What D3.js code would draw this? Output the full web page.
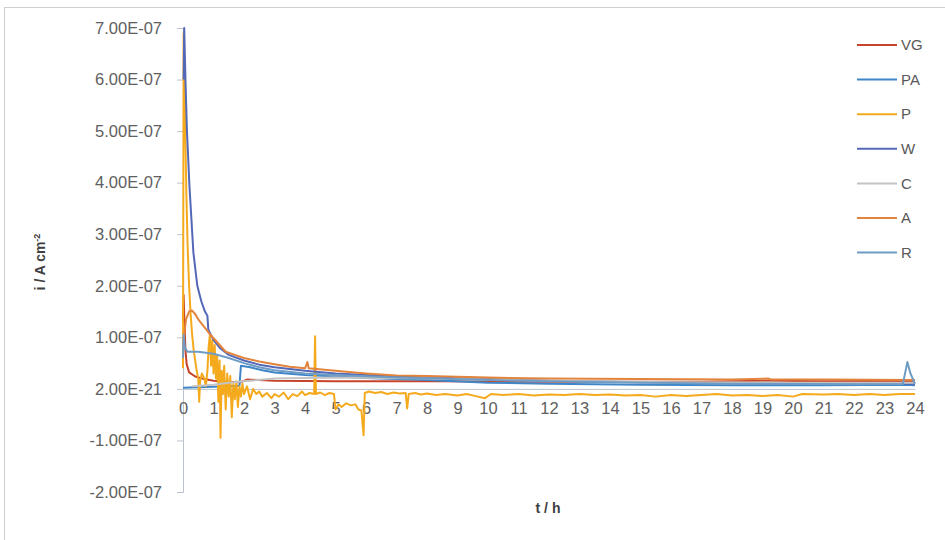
<!DOCTYPE html>
<html>
<head>
<meta charset="utf-8">
<script src="https://cdn.jsdelivr.net/npm/d3@7"></script>
<style>
  body { margin: 0; background: #fff; }
  text { font-family: "Liberation Sans", Arial, sans-serif; }
</style>
</head>
<body>
<div id="chart"></div>
<script>
// values in units of 1e-7 A cm^-2, time in h
var UNIT = 1e-7;

var seriesNames = ["VG", "PA", "P", "W", "C", "A", "R"];
var seriesColors = ["#c8432b", "#3f86c8", "#f5aa1e", "#5468b8", "#c4c4c4", "#e2843c", "#6f9cc4"];

var xTicks = d3.range(0, 25);
var yTicks = [-2e-7, -1e-7, 0, 1e-7, 2e-7, 3e-7, 4e-7, 5e-7, 6e-7, 7e-7];
var yTickLabels = ["-2.00E-07", "-1.00E-07", "2.00E-21", "1.00E-07", "2.00E-07",
    "3.00E-07", "4.00E-07", "5.00E-07", "6.00E-07", "7.00E-07"];

var vg = [[0, 1.3], [0.02, 1.82], [0.05, 1.25], [0.08, 0.75], [0.12, 0.48], [0.2, 0.32],
    [0.4, 0.24], [0.7, 0.19], [1, 0.16], [1.5, 0.14], [1.9, 0.13], [2.1, 0.18], [3, 0.16],
    [5, 0.15], [8, 0.15], [11, 0.14], [14, 0.14], [17, 0.14], [19.2, 0.16], [21, 0.15],
    [23.8, 0.16], [24, 0.15]];

var pa = [[0, 0.02], [0.5, 0.03], [1, 0.04], [1.5, 0.05], [1.85, 0.06], [1.9, 0.45],
    [2.2, 0.42], [2.6, 0.36], [3, 0.32], [4, 0.27], [5, 0.24], [6, 0.21], [8, 0.17],
    [10, 0.12], [12, 0.1], [15, 0.08], [18, 0.07], [21, 0.07], [23.7, 0.08], [24, 0.07]];

var p = [[0, 0.4], [0.02, 6.9], [0.05, 6.1], [0.08, 4.8], [0.11, 3.8], [0.15, 2.8], [0.2, 2.0],
    [0.25, 1.45], [0.3, 1.05], [0.35, 0.75], [0.4, 0.55], [0.45, 0.35], [0.5, 0.2], [0.53, -0.25],
    [0.56, 0.15], [0.62, 0.3], [0.7, 0.2], [0.75, 0.05], [0.8, 0.35], [0.84, 0.8], [0.88, 1.05],
    [0.92, 0.45], [0.96, 0.95], [1.0, 0.3], [1.04, 0.85], [1.08, 0.2], [1.12, 0.65], [1.16, -0.25],
    [1.2, 0.55], [1.23, -0.95], [1.27, 0.35], [1.31, -0.1], [1.35, 0.45], [1.4, -0.4], [1.45, 0.3],
    [1.5, -0.15], [1.55, 0.25], [1.6, -0.55], [1.65, 0.1], [1.7, -0.2], [1.75, 0.15], [1.8, -0.35],
    [1.85, 0.05], [1.9, -0.15], [1.95, 0.1], [2.0, -0.1], [2.1, 0.05], [2.2, -0.2], [2.3, 0.0],
    [2.4, -0.1], [2.5, -0.05], [2.6, -0.15], [2.75, -0.08], [2.9, -0.18], [3.0, -0.1], [3.15, -0.15],
    [3.3, -0.07], [3.45, -0.2], [3.6, -0.1], [3.75, -0.14], [3.9, -0.05], [4.0, -0.12], [4.15, -0.08],
    [4.3, -0.1], [4.33, 1.02], [4.36, -0.1], [4.5, -0.07], [4.65, -0.12], [4.8, -0.08], [4.95, -0.1],
    [5.0, -0.4], [5.1, -0.3], [5.2, -0.35], [5.35, -0.28], [5.5, -0.32], [5.65, -0.3], [5.75, -0.4],
    [5.85, -0.42], [5.92, -0.9], [5.96, -0.08], [6.1, -0.05], [6.3, -0.08], [6.5, -0.06], [6.7, -0.1],
    [6.9, -0.07], [7.1, -0.09], [7.3, -0.08], [7.35, -0.38], [7.4, -0.1], [7.6, -0.08], [7.8, -0.11],
    [8.0, -0.09], [8.3, -0.12], [8.6, -0.1], [9.0, -0.13], [9.3, -0.1], [9.6, -0.14], [9.9, -0.18],
    [10.1, -0.1], [10.5, -0.12], [11.0, -0.1], [11.5, -0.13], [12.0, -0.11], [12.5, -0.12], [13.0, -0.1],
    [13.5, -0.12], [14.0, -0.11], [14.5, -0.13], [15.0, -0.12], [15.5, -0.15], [16.0, -0.12],
    [16.5, -0.14], [17.0, -0.12], [17.5, -0.1], [18.0, -0.13], [18.5, -0.12], [19.0, -0.14],
    [19.5, -0.12], [20.0, -0.15], [20.3, -0.1], [21.0, -0.11], [21.5, -0.1], [22.0, -0.12],
    [22.5, -0.1], [23.0, -0.12], [23.5, -0.1], [24.0, -0.1]];

var w = [[0.02, 6.0], [0.04, 7.0], [0.08, 6.0], [0.13, 5.0], [0.21, 3.95], [0.34, 2.65],
    [0.47, 2.0], [0.6, 1.7], [0.72, 1.5], [0.8, 1.42], [0.83, 1.15], [1.0, 0.95], [1.2, 0.8],
    [1.5, 0.66], [2, 0.55], [2.5, 0.47], [3, 0.42], [4, 0.35], [5, 0.3], [6, 0.27], [8, 0.22],
    [10, 0.19], [12, 0.16], [15, 0.13], [18, 0.11], [21, 0.1], [24, 0.1]];

var c = [[0.3, 0.05], [1, 0.08], [1.5, 0.12], [2, 0.15], [3, 0.2], [5, 0.22], [8, 0.2],
    [12, 0.16], [16, 0.13], [20, 0.12], [24, 0.12]];

var a = [[0, 0.8], [0.05, 1.1], [0.1, 1.35], [0.2, 1.5], [0.3, 1.52], [0.4, 1.45], [0.5, 1.35],
    [0.7, 1.2], [0.9, 1.05], [1.1, 0.92], [1.4, 0.72], [1.7, 0.66], [2, 0.6], [2.5, 0.53],
    [3, 0.48], [3.5, 0.43], [4, 0.4], [4.08, 0.52], [4.12, 0.4], [5, 0.35], [6, 0.3], [7, 0.26],
    [8, 0.25], [10, 0.22], [12, 0.2], [15, 0.19], [18, 0.18], [19.2, 0.2], [19.3, 0.18],
    [21, 0.18], [24, 0.17]];

var r = [[0, 0.6], [0.02, 1.05], [0.06, 0.8], [0.15, 0.72], [0.5, 0.72], [1, 0.68], [1.5, 0.6],
    [2, 0.5], [2.5, 0.42], [3, 0.36], [4, 0.3], [5, 0.27], [7, 0.22], [10, 0.17], [14, 0.13],
    [18, 0.1], [22, 0.09], [23.6, 0.09], [23.75, 0.52], [23.85, 0.3], [24, 0.1]];

var seriesData = [vg, pa, p, w, c, a, r];

var width = 945, height = 540;
var margin = {top: 28, left: 183, right: 30, bottom: 48};

var svg = d3.select("#chart")
    .append("svg")
    .attr("width", width)
    .attr("height", height);

// outer chart frame
svg.append("rect")
    .attr("x", 4.5).attr("y", 7.5)
    .attr("width", 960).attr("height", 600)
    .attr("fill", "none")
    .attr("stroke", "#cfcfcf");

var x = d3.scaleLinear().domain([0, 24]).range([margin.left, 915]);
var y = d3.scaleLinear().domain([-2e-7, 7e-7]).range([492, 28]);

var line = d3.line()
    .x(d => x(d[0]))
    .y(d => y(d[1] * UNIT));

// y axis
var yAxis = svg.append("g")
    .attr("transform", "translate(" + margin.left + ",0)")
    .call(d3.axisLeft(y).tickValues(yTicks).tickSize(6).tickPadding(15)
        .tickFormat((d, i) => yTickLabels[i]));
yAxis.select(".domain").attr("stroke", "#bcc3cc");
yAxis.selectAll(".tick line").attr("stroke", "#bcc3cc");
yAxis.selectAll(".tick text")
    .attr("font-size", 16.5)
    .attr("fill", "#606060")
    .style("font-family", "Liberation Sans, Arial, sans-serif");

// x axis at zero
var xAxis = svg.append("g")
    .attr("transform", "translate(0," + y(0) + ")")
    .call(d3.axisBottom(x).tickValues(xTicks).tickSize(0).tickPadding(13)
        .tickFormat(d3.format("d")));
xAxis.select(".domain").attr("stroke", "#bcc3cc");
xAxis.selectAll(".tick text")
    .attr("font-size", 16.5)
    .attr("fill", "#606060")
    .style("font-family", "Liberation Sans, Arial, sans-serif");

// series
svg.append("g")
    .selectAll("path")
    .data(seriesData)
    .enter().append("path")
    .attr("d", line)
    .attr("fill", "none")
    .attr("stroke", (d, i) => seriesColors[i])
    .attr("stroke-width", 2)
    .attr("stroke-linejoin", "round");

// axis titles
var yTitle = svg.append("text")
    .attr("transform", "translate(45,262) rotate(-90)")
    .attr("text-anchor", "middle")
    .attr("font-size", 14)
    .attr("font-weight", "bold")
    .attr("fill", "#404040");
yTitle.append("tspan").text("i / A cm");
yTitle.append("tspan").attr("dy", -5).attr("font-size", 9).text("-2");

svg.append("text")
    .attr("x", 548).attr("y", 513)
    .attr("text-anchor", "middle")
    .attr("font-size", 14)
    .attr("font-weight", "bold")
    .attr("fill", "#404040")
    .text("t / h");

// legend
var legend = svg.append("g")
    .selectAll("g")
    .data(seriesNames)
    .enter().append("g")
    .attr("transform", (d, i) => "translate(857," + (45 + i * 34.6) + ")");
legend.append("line")
    .attr("x1", 0).attr("x2", 40)
    .attr("stroke", (d, i) => seriesColors[i])
    .attr("stroke-width", 2);
legend.append("text")
    .attr("x", 44).attr("dy", "0.35em")
    .attr("font-size", 15)
    .attr("fill", "#595959")
    .text(d => d);
</script>
</body>
</html>
